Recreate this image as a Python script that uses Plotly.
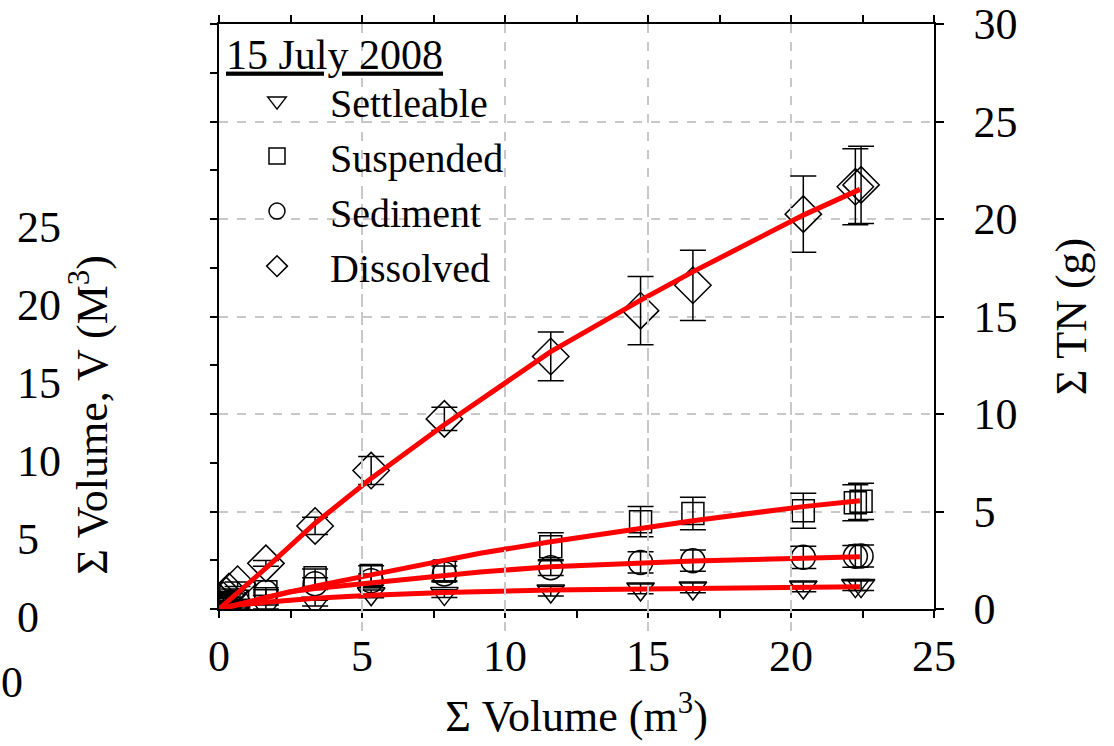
import plotly.graph_objects as go

W, H = 1114, 746
FONT = "Liberation Serif"

# ---- measured points (Σ Volume m3 vs Σ TN g) ----
x_pts = [0.0, 0.08, 0.15, 0.25, 0.35, 0.65, 1.64, 3.36, 5.32, 7.88, 11.6, 14.74, 16.57, 20.43, 22.25, 22.45]

settle_y = [0.0, 0.03, 0.05, 0.08, 0.1, 0.1, 0.1, 0.3, 0.78, 0.79, 0.92, 1.03, 1.08, 1.13, 1.2, 1.2]
settle_e = [0.01, 0.01, 0.02, 0.02, 0.03, 0.05, 0.1, 0.15, 0.2, 0.2, 0.25, 0.25, 0.25, 0.25, 0.25, 0.25]

susp_y = [0.03, 0.12, 0.2, 0.3, 0.35, 0.4, 0.89, 1.6, 1.72, 1.95, 3.19, 4.48, 4.9, 5.04, 5.45, 5.52]
susp_e = [0.02, 0.03, 0.05, 0.05, 0.08, 0.1, 0.2, 0.45, 0.5, 0.5, 0.72, 0.78, 0.83, 0.9, 0.92, 0.93]

sed_y = [0.02, 0.08, 0.12, 0.18, 0.25, 0.35, 0.84, 1.3, 1.45, 1.8, 2.12, 2.39, 2.48, 2.65, 2.7, 2.72]
sed_e = [0.02, 0.02, 0.03, 0.05, 0.05, 0.08, 0.15, 0.3, 0.35, 0.4, 0.4, 0.54, 0.54, 0.57, 0.56, 0.56]

diss_y = [0.05, 0.25, 0.45, 0.7, 0.9, 1.27, 2.34, 4.26, 7.1, 9.75, 12.95, 15.3, 16.6, 20.25, 21.65, 21.75]
diss_e = [0.03, 0.05, 0.08, 0.1, 0.12, 0.12, 0.15, 0.44, 0.72, 0.6, 1.25, 1.75, 1.8, 1.95, 1.95, 1.98]

# ---- fitted curves ----
fit_x_settle = [0, 0.62, 1.64, 2.48, 3.36, 5.32, 7.88, 11.6, 14.74, 16.57, 20.43, 22.41]
fit_y_settle = [0, 0.2, 0.35, 0.45, 0.55, 0.7, 0.85, 0.97, 1.03, 1.07, 1.12, 1.14]

fit_x_ss = [0, 1.64, 2.48, 3.36, 5.32, 7.88, 9.13, 11.6, 14.74, 16.57, 20.43, 22.41]
fit_y_susp = [0, 0.6, 0.89, 1.17, 1.75, 2.5, 2.86, 3.45, 4.14, 4.53, 5.25, 5.55]
fit_y_sed = [0, 0.62, 0.89, 1.05, 1.35, 1.72, 1.9, 2.17, 2.37, 2.46, 2.6, 2.68]

fit_x_diss = [0, 1.68, 3.36, 5.28, 7.83, 11.6, 14.76, 16.58, 20.43, 22.41]
fit_y_diss = [0, 2.15, 4.4, 6.65, 9.4, 13.2, 15.85, 17.3, 20.2, 21.52]

# ---- tick labels ----
x_ticks = [0, 5, 10, 15, 20, 25]
tn_ticks = [0, 5, 10, 15, 20, 25, 30]
vol_ticks = [0, 5, 10, 15, 20, 25]

series = [
    ("Settleable", "triangle-down-open", 24, settle_y, settle_e),
    ("Suspended", "square-open", 22, susp_y, susp_e),
    ("Sediment", "circle-open", 24, sed_y, sed_e),
    ("Dissolved", "diamond-open", 28, diss_y, diss_e),
]

fig = go.Figure()
for name, sym, size, ys, es in series:
    fig.add_trace(go.Scatter(
        x=x_pts, y=ys, mode="markers", name=name,
        marker=dict(symbol=sym, size=size, color="black", line=dict(color="black", width=1.5)),
        error_y=dict(type="data", array=es, color="black", thickness=1.5, width=13),
    ))

for fx, fy in [(fit_x_settle, fit_y_settle), (fit_x_ss, fit_y_susp), (fit_x_ss, fit_y_sed), (fit_x_diss, fit_y_diss)]:
    fig.add_trace(go.Scatter(x=fx, y=fy, mode="lines", line=dict(color="#ff0000", width=5),
                             showlegend=False, hoverinfo="skip"))

# carriers so that the right TN scale and the stray left scale are drawn
fig.add_trace(go.Scatter(x=[None], y=[None], xaxis="x", yaxis="y2", showlegend=False, hoverinfo="skip"))
fig.add_trace(go.Scatter(x=[None], y=[None], xaxis="x", yaxis="y3", showlegend=False, hoverinfo="skip"))

tf = dict(family=FONT, size=44, color="black")
grid = dict(showgrid=True, gridcolor="#c8c8c8", gridwidth=1.5, griddash="dash")

fig.update_layout(
    width=W, height=H,
    margin=dict(l=0, r=0, t=0, b=0, autoexpand=False),
    paper_bgcolor="white", plot_bgcolor="rgba(0,0,0,0)",
    font=dict(family=FONT, color="black", size=44),
    showlegend=True,
    legend=dict(
        x=224 / W, y=1 - 14 / H, xanchor="left", yanchor="top",
        bgcolor="rgba(0,0,0,0)", borderwidth=0,
        font=dict(family=FONT, size=40, color="black"),
        title=dict(text="<u>15 July 2008</u>", font=dict(family=FONT, size=42, color="black")),
        itemwidth=96,
    ),
    xaxis=dict(
        domain=[219 / W, 934 / W], range=[0, 25], tickvals=x_ticks,
        ticks="outside", ticklen=7, tickwidth=1.5, tickcolor="black",
        minor=dict(dtick=2.5, ticks="outside", ticklen=7, tickwidth=1.5, tickcolor="black", showgrid=False),
        showline=True, linecolor="black", linewidth=1.5, mirror="ticks",
        zeroline=False, tickfont=tf, ticklabelstandoff=0, automargin=False,
        title=dict(text="Σ Volume (m<sup>3</sup>)", font=tf, standoff=21),
        anchor="y", **grid,
    ),
    yaxis=dict(
        domain=[1 - 609 / H, 1 - 24 / H], range=[0, 30], dtick=5,
        showticklabels=False, ticks="outside", ticklen=7, tickwidth=1.5, tickcolor="black",
        minor=dict(dtick=2.5, ticks="outside", ticklen=7, tickwidth=1.5, tickcolor="black", showgrid=False),
        showline=True, linecolor="black", linewidth=1.5, zeroline=False, automargin=False,
        anchor="x", **grid,
    ),
    yaxis2=dict(
        overlaying="y", side="right", anchor="x", range=[0, 30], tickvals=tn_ticks,
        ticks="outside", ticklen=8, tickwidth=1.5, tickcolor="black",
        showline=True, linecolor="black", linewidth=1.5, showgrid=False, zeroline=False,
        tickfont=tf, ticklabelstandoff=21, automargin=False,
        title=dict(text="Σ TN (g)", font=tf, standoff=39),
    ),
    yaxis3=dict(
        anchor="free", position=16 / W, side="right",
        domain=[1 - 640 / H, 1 - 190 / H], range=[-(640 - 617) / 15.6, (617 - 190) / 15.6],
        tickvals=vol_ticks, ticks="", showline=False, showgrid=False, zeroline=False,
        tickfont=tf, automargin=False,
        title=dict(text="Σ Volume, V (M<sup>3</sup>)", font=tf, standoff=16),
    ),
    annotations=[dict(text="0", x=12 / W, y=1 - 682 / H, xref="paper", yref="paper",
                      showarrow=False, xanchor="center", yanchor="middle", font=tf)],
)

fig.write_html("out.html")
